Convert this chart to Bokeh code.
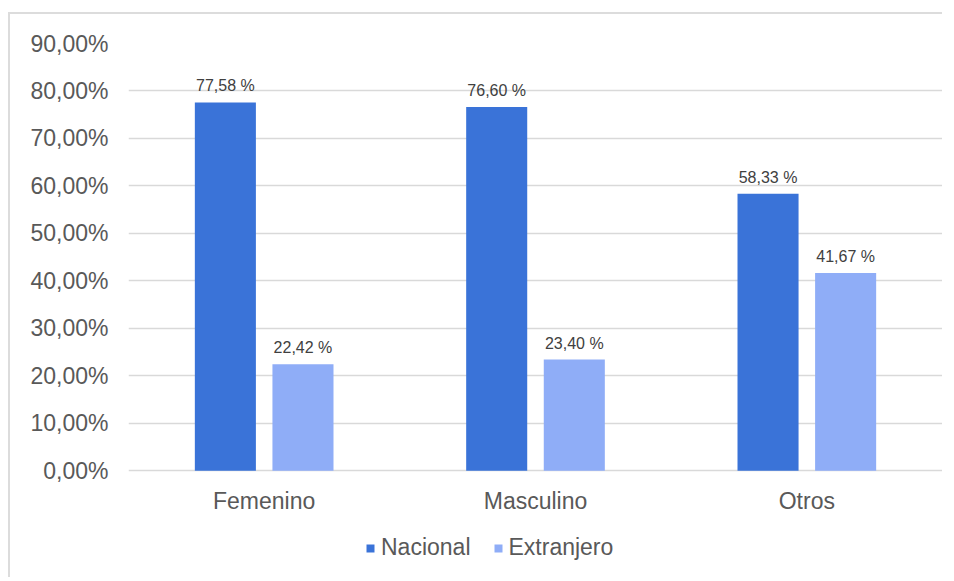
from bokeh.plotting import figure
from bokeh.models import ColumnDataSource, FactorRange, Range1d, FixedTicker, Legend, LegendItem
from bokeh.transform import dodge
from bokeh.core.properties import value
from bokeh.embed import file_html
from bokeh.resources import INLINE

categories = ["Femenino", "Masculino", "Otros"]
nacional = [77.58, 76.60, 58.33]
extranjero = [22.42, 23.40, 41.67]
y_ticks = [0, 10, 20, 30, 40, 50, 60, 70, 80, 90]
y_tick_labels = ["0,00%", "10,00%", "20,00%", "30,00%", "40,00%", "50,00%",
                 "60,00%", "70,00%", "80,00%", "90,00%"]

def fmt(v):
    return f"{v:.2f}".replace(".", ",") + " %"

source = ColumnDataSource(data=dict(
    cat=categories,
    nac=nacional,
    ext=extranjero,
    zero=[0] * len(categories),
    nac_lbl=[fmt(v) for v in nacional],
    ext_lbl=[fmt(v) for v in extranjero],
))

FONT = "Liberation Sans"
DARK = "#3a73d8"
LIGHT = "#8fadf7"
TXT = "#595959"

# the frame extends below 0 so that category labels and legend live inside it
p = figure(x_range=FactorRange(*categories, range_padding=0), y_range=Range1d(-21.87, 90),
           width=934, height=565, output_backend="svg", toolbar_location=None,
           min_border_left=118, min_border_right=2, min_border_top=29, min_border_bottom=5)
p.styles = {"border-top": "2px solid #dcdcdc", "border-left": "2px solid #dcdcdc",
            "margin-top": "12px", "margin-left": "8px"}
p.outline_line_color = None
p.background_fill_color = "white"
p.border_fill_color = "white"

r1 = p.vbar(x=dodge("cat", -0.143, range=p.x_range), top="nac", width=0.225,
            source=source, color=DARK, line_color=None)
r2 = p.vbar(x=dodge("cat", 0.143, range=p.x_range), top="ext", width=0.225,
            source=source, color=LIGHT, line_color=None)

p.text(x=dodge("cat", -0.143, range=p.x_range), y="nac", text="nac_lbl", source=source,
       text_align="center", text_baseline="bottom", y_offset=-8,
       text_font=value(FONT), text_font_size="16px", text_color="#404040")
p.text(x=dodge("cat", 0.143, range=p.x_range), y="ext", text="ext_lbl", source=source,
       text_align="center", text_baseline="bottom", y_offset=-8,
       text_font=value(FONT), text_font_size="16px", text_color="#404040")

# category labels under the 0 line
p.text(x="cat", y="zero", text="cat", source=source, text_align="center",
       text_baseline="top", y_offset=17, text_font=value(FONT),
       text_font_size="23px", text_color=TXT)

p.xaxis.visible = False
p.xgrid.grid_line_color = None
p.ygrid.grid_line_color = "#d9d9d9"
p.ygrid.grid_line_width = 1.5
p.yaxis.ticker = FixedTicker(ticks=y_ticks)
p.yaxis.major_label_overrides = {t: l for t, l in zip(y_ticks, y_tick_labels)}
p.yaxis.axis_line_color = None
p.yaxis.major_tick_line_color = None
p.yaxis.minor_tick_line_color = None
p.yaxis.major_tick_out = 0
p.yaxis.major_label_standoff = 20
p.yaxis.major_label_text_font = FONT
p.yaxis.major_label_text_font_size = "23px"
p.yaxis.major_label_text_color = TXT

legend = Legend(items=[LegendItem(label="Nacional", renderers=[r1]),
                       LegendItem(label="Extranjero", renderers=[r2])],
                orientation="horizontal", location=(237, 13),
                glyph_width=10, glyph_height=10, label_text_font=FONT,
                label_text_font_size="23px", label_text_color=TXT,
                spacing=22, label_standoff=6, border_line_color=None,
                background_fill_alpha=0, margin=0, padding=0)
p.add_layout(legend, "center")

open("out.html", "w").write(file_html(p, INLINE))
